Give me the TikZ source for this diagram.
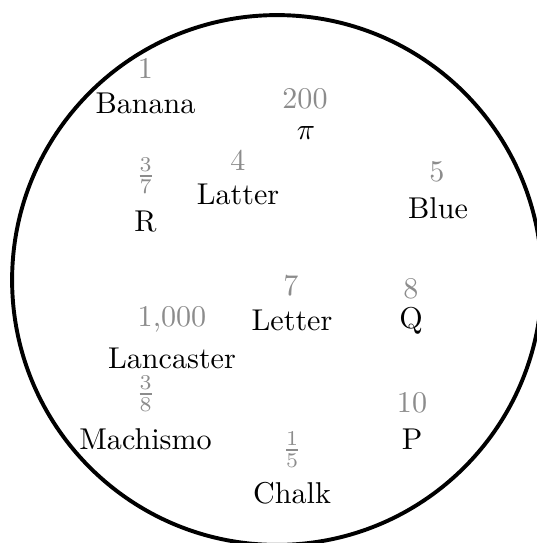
\documentclass[tikz,border=0pt]{standalone}
\definecolor{numgray}{gray}{0.55}
\begin{document}
\begin{tikzpicture}[x=0.3322pt,y=-0.3322pt,
  word/.style={text=black,inner sep=0pt,anchor=center},
  num/.style={text=numgray,inner sep=0pt,anchor=center},
  ring/.style={draw=black,line width=1.3pt}]
\useasboundingbox (0,0) rectangle (537,543);
\draw[ring] (277,280) circle[radius=88.0pt];
% words
\node[word] (banana) at (145.5,103) {Banana};
\node[word] (pi) at (306,133) {$\pi$};
\node[word] (latter) at (238,194) {Latter};
\node[word] (R) at (145.5,222) {R};
\node[word] (blue) at (438,208) {Blue};
\node[word] (letter) at (292,320) {Letter};
\node[word] (Q) at (411,321) {Q};
\node[word] (lancaster) at (172,358) {Lancaster};
\node[word] (machismo) at (145.5,439) {Machismo};
\node[word] (P) at (412,439) {P};
\node[word] (chalk) at (292,493) {Chalk};
% numbers
\node[num] (n1) at (145.5,68) {1};
\node[num] (n200) at (305,99) {200};
\node[num] (n37) at (145.5,176) {$\frac{3}{7}$};
\node[num] (n4) at (238,160) {4};
\node[num] (n5) at (437,172) {5};
\node[num] (n7) at (291,286) {7};
\node[num] (n8) at (411,289) {8};
\node[num] (n1000) at (172,319) {1,000};
\node[num] (n38) at (145.5,394) {$\frac{3}{8}$};
\node[num] (n10) at (412,403) {10};
\node[num] (n15) at (292,450) {$\frac{1}{5}$};
\end{tikzpicture}
\end{document}
